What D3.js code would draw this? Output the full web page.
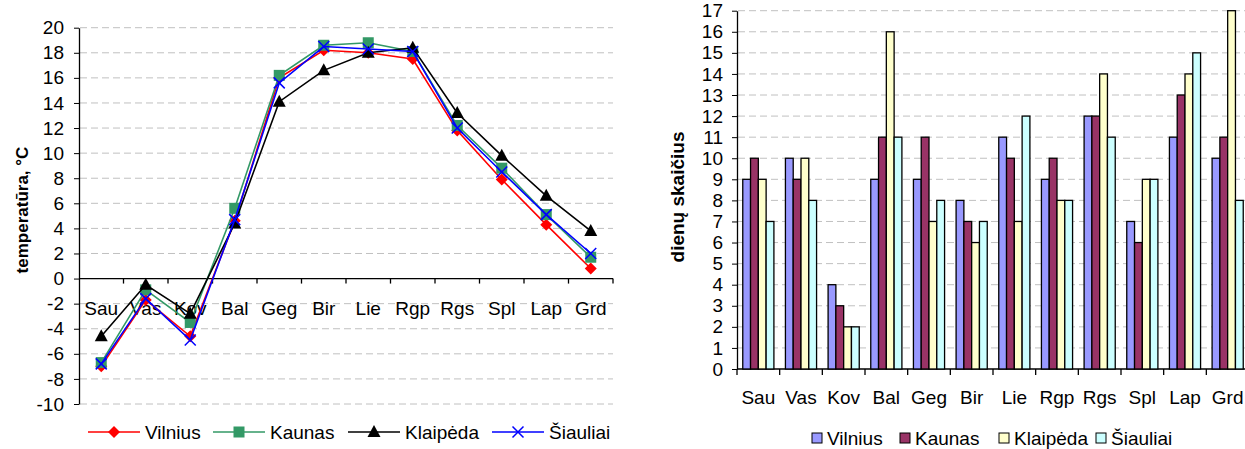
<!DOCTYPE html>
<html>
<head>
<meta charset="utf-8">
<style>
  body { margin: 0; background: #fff; }
  svg { display: block; font-family: "Liberation Sans", Arial, sans-serif; }
  .grid line { stroke: #c0c0c0; stroke-dasharray: 7,4; }
</style>
</head>
<body>
<svg id="chart" width="1245" height="449"></svg>
<script src="https://d3js.org/d3.v7.min.js"></script>
<script>
// months (lithuanian short names)
const months = ["Sau", "Vas", "Kov", "Bal", "Geg", "Bir", "Lie", "Rgp", "Rgs", "Spl", "Lap", "Grd"];
const cities = ["Vilnius", "Kaunas", "Klaipėda", "Šiauliai"];

// mean temperature, °C
const tempVilnius  = [-7.0, -1.7, -4.6, 4.6, 16.0, 18.2, 18.0, 17.5, 11.8, 7.9, 4.3, 0.8];
const tempKaunas   = [-6.7, -0.9, -3.5, 5.6, 16.2, 18.6, 18.8, 18.1, 12.2, 8.8, 5.1, 1.7];
const tempKlaipeda = [-4.6, -0.5, -2.8, 4.4, 14.1, 16.6, 18.0, 18.4, 13.2, 9.8, 6.6, 3.8];
const tempSiauliai = [-6.8, -1.6, -4.9, 4.7, 15.6, 18.5, 18.3, 18.1, 12.0, 8.5, 5.1, 2.0];

// number of days
const daysVilnius  = [9, 10, 4, 9, 9, 8, 11, 9, 12, 7, 11, 10];
const daysKaunas   = [10, 9, 3, 11, 11, 7, 10, 10, 12, 6, 13, 11];
const daysKlaipeda = [9, 10, 2, 16, 7, 6, 7, 8, 14, 9, 14, 17];
const daysSiauliai = [7, 8, 2, 11, 8, 7, 12, 8, 11, 9, 15, 8];

const tempTicks = d3.range(-10, 21, 2);
const dayTicks = d3.range(0, 18, 1);

const svg = d3.select("#chart");
const fs = 19;

// ---------- left: line chart ----------
const lineColors = ["#ff0000", "#339966", "#000000", "#0000ff"];
const tempSeries = [tempVilnius, tempKaunas, tempKlaipeda, tempSiauliai];

const x1 = d3.scaleBand().domain(months).range([79, 613]);
const y1 = d3.scaleLinear().domain([-10, 20]).range([404, 27.7]);

const g1 = svg.append("g");

g1.append("g").attr("class", "grid")
  .selectAll("line").data(tempTicks).join("line")
    .attr("x1", 80).attr("x2", 613)
    .attr("y1", d => y1(d)).attr("y2", d => y1(d));

const yAxis1 = g1.append("g")
  .attr("transform", "translate(79,0)")
  .call(d3.axisLeft(y1).tickValues(tempTicks).tickFormat(d => String(d))
    .tickSize(5).tickPadding(10).tickSizeOuter(0));
yAxis1.select(".domain").attr("stroke", "#000").attr("stroke-width", 1.3);
yAxis1.selectAll("text").attr("font-size", fs).attr("fill", "#000").attr("font-family", "Liberation Sans, Arial");

// x axis at zero, ticks at band edges
const bounds1 = d3.range(months.length + 1).map(i => x1.range()[0] + i * x1.step());
g1.append("line").attr("x1", 79).attr("x2", 613).attr("y1", y1(0)).attr("y2", y1(0))
  .attr("stroke", "#000").attr("stroke-width", 1.3);
g1.append("g").selectAll("line").data(bounds1.slice(1)).join("line")
  .attr("x1", d => d).attr("x2", d => d)
  .attr("y1", y1(0)).attr("y2", y1(0) + 5).attr("stroke", "#000").attr("stroke-width", 1.3);

g1.append("g").selectAll("text").data(months).join("text")
  .attr("x", d => x1(d) + x1.bandwidth() / 2)
  .attr("y", y1(0) + 36)
  .attr("text-anchor", "middle").attr("font-size", fs)
  .text(d => d);

g1.append("text")
  .attr("transform", "translate(28,210) rotate(-90)")
  .attr("text-anchor", "middle").attr("font-size", 17).attr("font-weight", "bold")
  .text("temperatūra, °C");

function marker(sel, i, cx, cy) {
  const c = lineColors[i];
  if (i === 0) {
    sel.append("path").attr("d", `M${cx},${cy - 6}L${cx + 6},${cy}L${cx},${cy + 6}L${cx - 6},${cy}Z`).attr("fill", c);
  } else if (i === 1) {
    sel.append("rect").attr("x", cx - 5.5).attr("y", cy - 5.5).attr("width", 11).attr("height", 11).attr("fill", c);
  } else if (i === 2) {
    sel.append("path").attr("d", `M${cx},${cy - 7}L${cx + 6.5},${cy + 5}L${cx - 6.5},${cy + 5}Z`).attr("fill", c);
  } else {
    sel.append("path").attr("d", `M${cx - 5.5},${cy - 5.5}L${cx + 5.5},${cy + 5.5}M${cx - 5.5},${cy + 5.5}L${cx + 5.5},${cy - 5.5}`)
      .attr("stroke", c).attr("stroke-width", 1.5).attr("fill", "none");
  }
}

const line = d3.line().x((d, i) => x1(months[i]) + x1.bandwidth() / 2).y(d => y1(d));
tempSeries.forEach((s, i) => {
  const g = g1.append("g");
  g.append("path").datum(s).attr("d", line).attr("fill", "none")
    .attr("stroke", lineColors[i]).attr("stroke-width", 1.6);
  s.forEach((v, j) => marker(g, i, x1(months[j]) + x1.bandwidth() / 2, y1(v)));
});

// legend left
const leg1x = [88, 213, 348, 492];
cities.forEach((c, i) => {
  const g = g1.append("g");
  const lx = leg1x[i], ly = 432;
  g.append("line").attr("x1", lx).attr("x2", lx + 52).attr("y1", ly).attr("y2", ly)
    .attr("stroke", lineColors[i]).attr("stroke-width", 1.6);
  marker(g, i, lx + 26, ly);
  g.append("text").attr("x", lx + 57).attr("y", ly + 7).attr("font-size", fs).text(c);
});

// ---------- right: bar chart ----------
const barColors = ["#9999ff", "#993366", "#ffffcc", "#ccffff"];
const daySeries = [daysVilnius, daysKaunas, daysKlaipeda, daysSiauliai];

const x2 = d3.scaleBand().domain(months).range([737, 1249]).paddingInner(0.27).paddingOuter(0.135);
const xs = d3.scaleBand().domain(cities).range([0, x2.bandwidth()]);
const y2 = d3.scaleLinear().domain([0, 17]).range([369, 10.7]);

const g2 = svg.append("g");
g2.append("g").attr("class", "grid")
  .selectAll("line").data(dayTicks.slice(1)).join("line")
    .attr("x1", 738).attr("x2", 1249)
    .attr("y1", d => y2(d)).attr("y2", d => y2(d));

const yAxis2 = g2.append("g")
  .attr("transform", "translate(737,0)")
  .call(d3.axisLeft(y2).tickValues(dayTicks).tickFormat(d => String(d)).tickSize(5).tickPadding(9).tickSizeOuter(0));
yAxis2.select(".domain").attr("stroke", "#000").attr("stroke-width", 1.3);
yAxis2.selectAll("text").attr("font-size", fs).attr("fill", "#000").attr("font-family", "Liberation Sans, Arial");

const bounds2 = d3.range(months.length + 1).map(i => 737 + i * (512 / 12));
g2.append("line").attr("x1", 737).attr("x2", 1249).attr("y1", y2(0)).attr("y2", y2(0))
  .attr("stroke", "#000").attr("stroke-width", 1.3);
g2.append("g").selectAll("line").data(bounds2).join("line")
  .attr("x1", d => d).attr("x2", d => d)
  .attr("y1", y2(0)).attr("y2", y2(0) + 6).attr("stroke", "#000").attr("stroke-width", 1.3);

daySeries.forEach((s, i) => {
  g2.append("g").selectAll("rect").data(s).join("rect")
    .attr("x", (d, j) => x2(months[j]) + xs(cities[i]))
    .attr("width", xs.bandwidth())
    .attr("y", d => y2(d))
    .attr("height", d => y2(0) - y2(d))
    .attr("fill", barColors[i]).attr("stroke", "#000").attr("stroke-width", 1.3);
});

g2.append("g").selectAll("text").data(months).join("text")
  .attr("x", (d, i) => (bounds2[i] + bounds2[i + 1]) / 2)
  .attr("y", y2(0) + 35)
  .attr("text-anchor", "middle").attr("font-size", fs)
  .text(d => d);

g2.append("text")
  .attr("transform", "translate(684,197) rotate(-90)")
  .attr("text-anchor", "middle").attr("font-size", 19).attr("font-weight", "bold")
  .text("dienų skaičius");

const leg2x = [812, 900, 999, 1096];
cities.forEach((c, i) => {
  const ly = 438;
  g2.append("rect").attr("x", leg2x[i]).attr("y", ly - 5).attr("width", 10).attr("height", 10)
    .attr("fill", barColors[i]).attr("stroke", "#000").attr("stroke-width", 1);
  g2.append("text").attr("x", leg2x[i] + 15).attr("y", ly + 7).attr("font-size", fs).text(c);
});
</script>
</body>
</html>
